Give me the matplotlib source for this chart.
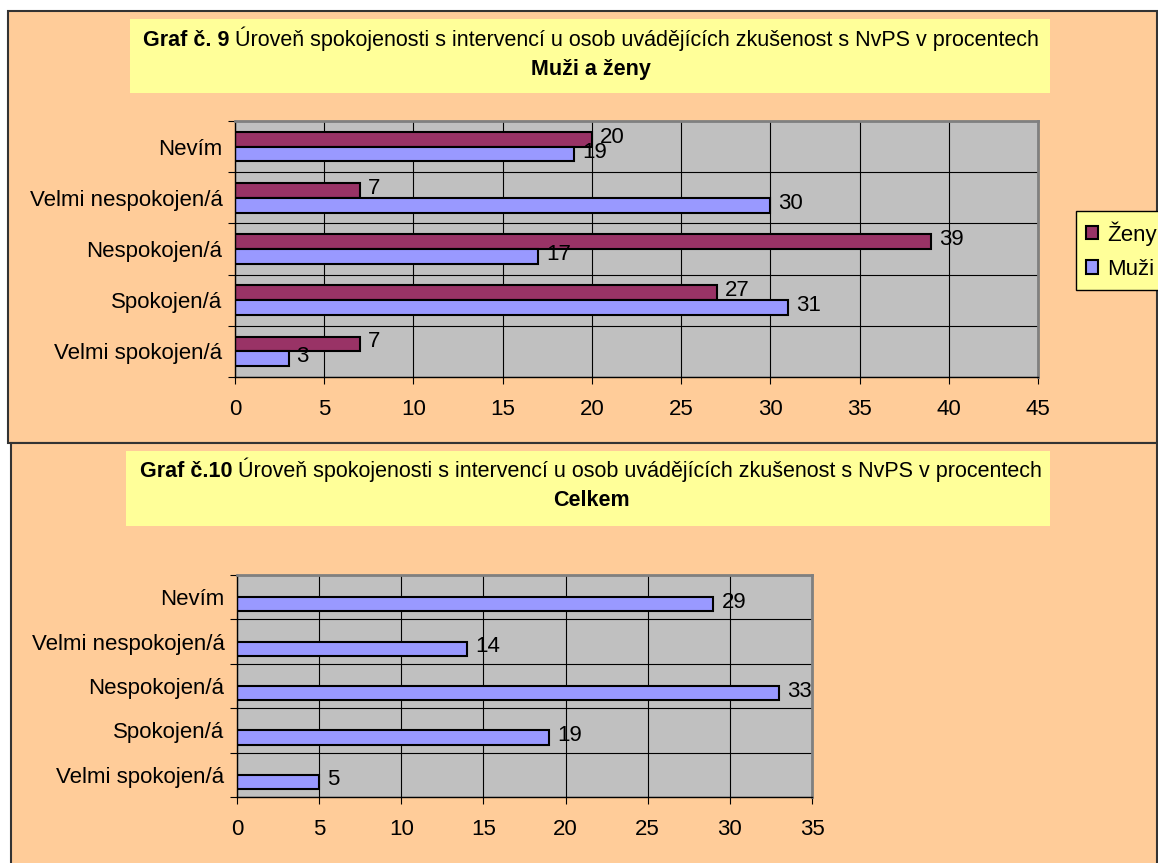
import matplotlib.pyplot as plt
from matplotlib.patches import Rectangle, Patch

plt.rcParams['font.family'] = ['Liberation Sans', 'DejaVu Sans']

categories = ["Nevím", "Velmi nespokojen/á", "Nespokojen/á", "Spokojen/á", "Velmi spokojen/á"]
zeny = [20, 7, 39, 27, 7]
muzi = [19, 30, 17, 31, 3]
celkem = [29, 14, 33, 19, 5]

W, H = 1158, 863
ZENY_C = "#993366"
MUZI_C = "#9999FF"
BG = "#FFCC99"
YEL = "#FFFF99"
FS = 16
TFS = 15.5

fig = plt.figure(figsize=(W / 100, H / 100), dpi=100)
fig.patch.set_facecolor("white")


def px_rect(x0, y0, x1, y1, **kw):
    # rectangle given in pixel coords (top-left origin)
    r = Rectangle((x0 / W, 1 - y1 / H), (x1 - x0) / W, (y1 - y0) / H,
                  transform=fig.transFigure, **kw)
    fig.patches.append(r)
    return r


# panel backgrounds
px_rect(8, 11, 1157, 443, facecolor=BG, edgecolor="#333333", lw=1.5, zorder=-2)
px_rect(11, 443, 1157, 900, facecolor=BG, edgecolor="#333333", lw=1.5, zorder=-2)
# title boxes
px_rect(130, 19, 1050, 93, facecolor=YEL, edgecolor="none", zorder=-1)
px_rect(126, 451, 1050, 526, facecolor=YEL, edgecolor="none", zorder=-1)


def title(bold, rest, sub, y1, y2, cx=591):
    t1 = fig.text(0, 1 - y1 / H, bold, fontsize=TFS, fontweight="bold", va="baseline", ha="left")
    t2 = fig.text(0, 1 - y1 / H, " " + rest, fontsize=TFS, va="baseline", ha="left")
    fig.canvas.draw()
    r = fig.canvas.get_renderer()
    w1 = t1.get_window_extent(r).width
    w2 = t2.get_window_extent(r).width
    x0 = cx - (w1 + w2) / 2
    t1.set_x(x0 / W)
    t2.set_x((x0 + w1) / W)
    fig.text(cx / W, 1 - y2 / H, sub, fontsize=TFS, fontweight="bold", va="baseline", ha="center")


title("Graf č. 9", "Úroveň spokojenosti s intervencí u osob uvádějících zkušenost s NvPS v procentech",
      "Muži a ženy", 46, 75)
title("Graf č.10", "Úroveň spokojenosti s intervencí u osob uvádějících zkušenost s NvPS v procentech",
      "Celkem", 477, 506)


def style_axes(ax, xmax):
    n = len(categories)
    ax.set_zorder(3)
    ax.set_facecolor("#C0C0C0")
    ax.set_xlim(0, xmax)
    ax.set_ylim(n - 0.5, -0.5)
    ax.set_xticks(range(0, xmax + 1, 5))
    ax.set_yticks([i - 0.5 for i in range(n + 1)])
    ax.set_yticklabels([])
    ax.set_yticks(range(n), minor=True)
    ax.set_yticklabels(categories, minor=True)
    ax.tick_params(axis="y", which="major", length=5, direction="out", color="black")
    ax.tick_params(axis="y", which="minor", length=0, pad=9, labelsize=FS)
    ax.tick_params(axis="x", length=5, direction="out", color="black", labelsize=FS, pad=11)
    ax.grid(True, which="major", color="black", lw=0.8)
    ax.set_axisbelow(True)
    for s in ["top", "right"]:
        ax.spines[s].set_color("#808080")
        ax.spines[s].set_linewidth(2)
    for s in ["left", "bottom"]:
        ax.spines[s].set_color("black")
        ax.spines[s].set_linewidth(1)


def label_bars(ax, bars, vals):
    for b, v in zip(bars, vals):
        ax.annotate(str(v), (b.get_width(), b.get_y() + b.get_height() / 2),
                    xytext=(8, 2), textcoords="offset pixels",
                    va="center", ha="left", fontsize=FS)


# top chart
ax1 = fig.add_axes([235 / W, 1 - 377 / H, 803 / W, 256 / H])
style_axes(ax1, 45)
h = 0.29
ys = list(range(len(categories)))
b1 = ax1.barh([y - h / 2 for y in ys], zeny, height=h, color=ZENY_C, edgecolor="black", lw=1.5)
b2 = ax1.barh([y + h / 2 for y in ys], muzi, height=h, color=MUZI_C, edgecolor="black", lw=1.5)
label_bars(ax1, b1, zeny)
label_bars(ax1, b2, muzi)

handles = [Patch(facecolor=ZENY_C, edgecolor="black", lw=1.5, label="Ženy"),
           Patch(facecolor=MUZI_C, edgecolor="black", lw=1.5, label="Muži")]
leg = fig.legend(handles=handles, loc="upper left", bbox_to_anchor=(1076 / W, 1 - 211 / H),
                 fontsize=FS, frameon=True, fancybox=False, facecolor=YEL, edgecolor="black",
                 handlelength=0.55, handleheight=0.55, handletextpad=0.4, labelspacing=0.6,
                 borderpad=0.45, borderaxespad=0)
leg.get_frame().set_linewidth(1)
leg.get_frame().set_alpha(1)
leg.set_zorder(5)

# bottom chart
ax2 = fig.add_axes([237 / W, 1 - 797 / H, 575 / W, 222 / H])
style_axes(ax2, 35)
h2 = 0.32
b3 = ax2.barh([y + h2 / 2 for y in ys], celkem, height=h2, color=MUZI_C, edgecolor="black", lw=1.5)
label_bars(ax2, b3, celkem)

fig.savefig("out.png", dpi=100, facecolor=fig.get_facecolor())
